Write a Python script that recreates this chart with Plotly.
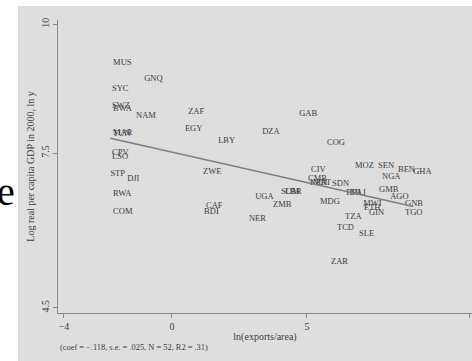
import plotly.graph_objects as go

# ---- data ----
codes = ["MUS", "GNQ", "SYC", "SWZ", "BWA", "NAM", "ZAF", "EGY", "DZA", "LBY",
         "MAR", "TUN", "CPV", "LSO", "STP", "DJI", "RWA", "COM", "ZWE", "CAF",
         "BDI", "UGA", "NER", "ZMB", "SOM", "LBR", "GAB", "COG", "CIV", "CMR",
         "KEN", "MRT", "SDN", "MOZ", "SEN", "BEN", "GHA", "NGA", "GMB", "AGO",
         "GNB", "TGO", "BFA", "MLI", "MDG", "MWI", "ETH", "GIN", "TZA", "TCD",
         "SLE", "ZAR"]
ln_exports_area = [-2.18, -1.03, -2.22, -2.22, -2.18, -1.33, 0.60, 0.48, 3.34, 1.71,
                   -2.18, -2.18, -2.22, -2.22, -2.28, -1.66, -2.18, -2.18, 1.15, 1.26,
                   1.19, 3.08, 2.85, 3.74, 4.04, 4.19, 4.71, 5.74, 5.15, 5.04,
                   5.11, 5.23, 5.93, 6.78, 7.63, 8.37, 8.93, 7.78, 7.67, 8.08,
                   8.63, 8.63, 6.45, 6.60, 5.48, 7.08, 7.11, 7.30, 6.41, 6.11,
                   6.93, 5.89]
ln_gdp_2000 = [9.24, 8.93, 8.74, 8.41, 8.35, 8.22, 8.29, 7.97, 7.91, 7.73,
               7.90, 7.87, 7.50, 7.42, 7.09, 7.00, 6.71, 6.36, 7.13, 6.47,
               6.36, 6.65, 6.22, 6.49, 6.74, 6.74, 8.26, 7.69, 7.17, 7.00,
               6.92, 6.92, 6.90, 7.25, 7.25, 7.17, 7.13, 7.03, 6.78, 6.65,
               6.51, 6.34, 6.72, 6.72, 6.55, 6.51, 6.43, 6.34, 6.26, 6.05,
               5.93, 5.39]

fit_coef = -0.118
fit_intercept = 7.52

x_ticks = [-4, 0, 5, 11]
y_ticks = [4.5, 7.5, 10]
y_tick_text = ["4.5", "7.5", "10"]

note = "(coef = \u2212.118, s.e. = .025, N = 52, R2 = .31)"

# ---- figure ----
SERIF = "Liberation Serif"
TXT = "#3c3c3c"

fig = go.Figure()

fig.add_trace(go.Scatter(
    x=ln_exports_area, y=ln_gdp_2000, text=codes,
    mode="text", textposition="middle right",
    textfont=dict(family=SERIF, size=8.5, color=TXT),
    hoverinfo="text", showlegend=False,
))

x_lo, x_hi = min(ln_exports_area), max(ln_exports_area)
fig.add_trace(go.Scatter(
    x=[x_lo, x_hi],
    y=[fit_intercept + fit_coef * x_lo, fit_intercept + fit_coef * x_hi],
    mode="lines", line=dict(color="#808080", width=1.5),
    hoverinfo="skip", showlegend=False,
))

fig.update_layout(
    width=472, height=361,
    margin=dict(l=58, r=0, t=20, b=48, pad=0),
    paper_bgcolor="white",
    plot_bgcolor="#f6f6f6",
    font=dict(family=SERIF, color=TXT),
    shapes=[dict(
        type="rect", xref="paper", yref="paper", layer="below",
        x0=-0.0966, x1=1.02, y0=-0.2, y1=1.048,
        fillcolor="#dedede", line=dict(width=0),
    )],
    annotations=[
        dict(text=note, xref="paper", yref="paper", x=0.0, y=-0.119,
             xanchor="left", yanchor="middle", showarrow=False,
             font=dict(family=SERIF, size=8.4, color=TXT)),
        dict(text="e", xref="paper", yref="paper", x=-0.099, y=0.413,
             xanchor="right", yanchor="middle", showarrow=False,
             font=dict(family=SERIF, size=40, color="black")),
    ],
)

fig.update_xaxes(
    range=[-4.22, 11.11], tickvals=x_ticks, tickformat="d",
    showgrid=False, zeroline=False,
    showline=True, linecolor="#8a8a8a", linewidth=1.2,
    ticks="outside", ticklen=4, tickcolor="#8a8a8a",
    tickfont=dict(family=SERIF, size=10, color=TXT),
    title=dict(text="ln(exports/area)", standoff=1,
               font=dict(family=SERIF, size=10, color=TXT)),
    automargin=False,
)
fig.update_yaxes(
    range=[4.40, 10.08], tickvals=y_ticks, ticktext=y_tick_text,
    tickangle=-90,
    showgrid=False, zeroline=False,
    showline=True, linecolor="#8a8a8a", linewidth=1.2,
    ticks="outside", ticklen=4, tickcolor="#8a8a8a",
    tickfont=dict(family=SERIF, size=10, color=TXT),
    title=dict(text="Log real per capita GDP in 2000, ln y", standoff=3,
               font=dict(family=SERIF, size=10, color=TXT)),
    automargin=False,
)

fig.write_html("out.html")
